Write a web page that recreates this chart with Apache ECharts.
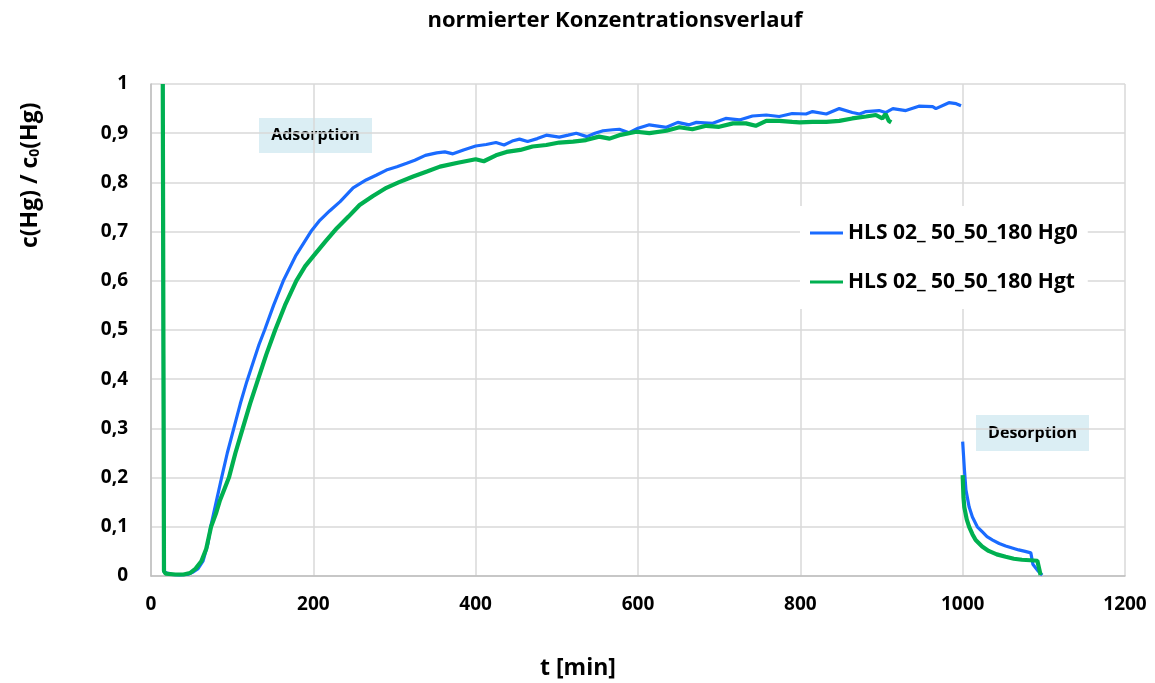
<!DOCTYPE html>
<html>
<head>
<meta charset="utf-8">
<title>normierter Konzentrationsverlauf</title>
<script src="https://cdn.jsdelivr.net/npm/echarts@6/dist/echarts.min.js"></script>
<style>
  html, body { margin: 0; padding: 0; background: #ffffff; }
  #chart { width: 1155px; height: 683px; }
</style>
</head>
<body>
<div id="chart"></div>
<script>
// Axis ticks
const xTicks = [0, 200, 400, 600, 800, 1000, 1200];
const yTickLabels = ['0', '0,1', '0,2', '0,3', '0,4', '0,5', '0,6', '0,7', '0,8', '0,9', '1'];

// Series names
const seriesNames = ['HLS 02_ 50_50_180 Hg0', 'HLS 02_ 50_50_180 Hgt'];

// Hg0 – adsorption phase [t (min), c/c0]
const hg0Adsorption = [
  [14.5, 1.0], [16, 0.008], [18, 0.004], [25, 0.003], [35, 0.002], [45, 0.003],
  [52, 0.008], [58, 0.015], [64, 0.03], [70, 0.065], [73.5, 0.1], [80, 0.148],
  [87, 0.2], [94, 0.25], [102, 0.3], [110, 0.35], [118, 0.395], [126, 0.435],
  [133, 0.47], [140, 0.5], [151, 0.55], [163, 0.6], [178, 0.65], [197, 0.7], [208, 0.723],
  [220, 0.742], [233, 0.761], [249, 0.789], [265, 0.805], [278, 0.815], [290, 0.825],
  [303, 0.832], [315, 0.839], [325, 0.845], [338, 0.855], [352, 0.86], [362, 0.862],
  [372, 0.858], [385, 0.866], [400, 0.874], [413, 0.877], [425, 0.881], [435, 0.876],
  [445, 0.884], [454, 0.888], [464, 0.883], [476, 0.889], [487, 0.896], [503, 0.892],
  [514, 0.896], [524, 0.9], [537, 0.893], [547, 0.9], [557, 0.905], [569, 0.907],
  [577, 0.908], [589, 0.901], [600, 0.91], [614, 0.917], [635, 0.912], [649, 0.922],
  [663, 0.917], [672, 0.922], [692, 0.92], [708, 0.93], [725, 0.927], [741, 0.935],
  [758, 0.937], [774, 0.934], [790, 0.94], [807, 0.939], [815, 0.944], [832, 0.939],
  [848, 0.95], [864, 0.942], [873, 0.939], [881, 0.944], [897, 0.946], [905, 0.942],
  [914, 0.95], [930, 0.946], [946, 0.955], [963, 0.954], [967, 0.95], [983, 0.962],
  [992, 0.96], [998, 0.956]
];

// Hg0 – desorption phase
const hg0Desorption = [
  [1000, 0.273], [1002, 0.22], [1004, 0.175], [1008, 0.14], [1012, 0.12], [1018, 0.1],
  [1024, 0.09], [1030, 0.08], [1037, 0.073], [1045, 0.066], [1053, 0.061], [1061, 0.057],
  [1069, 0.053], [1077, 0.05], [1084, 0.047], [1086, 0.045], [1086.5, 0.024],
  [1092, 0.012], [1098, 0.002]
];

// Hgt – adsorption phase
const hgtAdsorption = [
  [14.5, 1.0], [16, 0.01], [18, 0.005], [30, 0.003], [40, 0.003], [48, 0.006],
  [55, 0.015], [62, 0.03], [68, 0.055], [74, 0.1], [80, 0.127], [85, 0.154],
  [90, 0.175], [96, 0.2], [104, 0.25], [113, 0.3], [122, 0.35], [132, 0.4],
  [142, 0.45], [153, 0.5], [165, 0.55], [179, 0.6], [190, 0.63], [200, 0.65],
  [215, 0.68], [229, 0.707], [243, 0.73], [257, 0.754], [273, 0.772], [290, 0.789],
  [305, 0.8], [323, 0.812], [340, 0.822], [356, 0.832], [378, 0.84], [400, 0.847],
  [410, 0.843], [425, 0.855], [438, 0.862], [455, 0.866], [470, 0.873], [487, 0.876],
  [503, 0.881], [520, 0.883], [536, 0.886], [552, 0.893], [565, 0.889], [577, 0.896],
  [598, 0.903], [614, 0.9], [635, 0.905], [651, 0.912], [667, 0.908], [684, 0.915],
  [700, 0.913], [717, 0.92], [733, 0.92], [745, 0.915], [758, 0.925], [774, 0.925],
  [790, 0.923], [799, 0.922], [815, 0.923], [832, 0.923], [848, 0.925], [864, 0.93],
  [881, 0.934], [893, 0.937], [901, 0.93], [905, 0.939], [909, 0.925], [912, 0.922]
];

// Hgt – desorption phase
const hgtDesorption = [
  [1000, 0.205], [1001, 0.16], [1002, 0.14], [1005, 0.115], [1008, 0.1], [1012, 0.085],
  [1016, 0.073], [1024, 0.06], [1032, 0.051], [1042, 0.044], [1053, 0.039], [1063, 0.035],
  [1073, 0.033], [1083, 0.032], [1092, 0.031], [1093.5, 0.028], [1096, 0.002]
];

// Join the two phases with a break so no line bridges the pause
const gap = [[999, '-']];
const hg0Data = hg0Adsorption.concat(gap, hg0Desorption);
const hgtData = hgtAdsorption.concat(gap, hgtDesorption);

const FONT = '"Open Sans"';
const chart = echarts.init(document.getElementById('chart'));

chart.setOption({
  backgroundColor: '#ffffff',
  animation: false,
  textStyle: { fontFamily: FONT },
  grid: { left: 151, right: 30, top: 84, bottom: 107 },
  xAxis: {
    type: 'value',
    min: xTicks[0],
    max: xTicks[xTicks.length - 1],
    interval: xTicks[1] - xTicks[0],
    axisLine: { show: true, lineStyle: { color: '#bfbfbf', width: 1.5 } },
    axisTick: { show: false },
    axisLabel: {
      margin: 19, fontSize: 19, fontWeight: 'bold', color: '#000000', fontFamily: FONT,
      formatter: v => String(v)
    },
    splitLine: { show: true, lineStyle: { color: '#d9d9d9', width: 1.5 } }
  },
  yAxis: {
    type: 'value',
    min: 0,
    max: 1,
    interval: 0.1,
    axisLine: { show: true, lineStyle: { color: '#bfbfbf', width: 1.5 } },
    axisTick: { show: false },
    axisLabel: {
      margin: 23, fontSize: 19, fontWeight: 'bold', color: '#000000', fontFamily: FONT,
      formatter: (v, i) => yTickLabels[i]
    },
    splitLine: { show: true, lineStyle: { color: '#d9d9d9', width: 1.5 } }
  },
  legend: {
    orient: 'vertical',
    left: 800,
    top: 206,
    padding: [14, 10, 14, 10],
    backgroundColor: '#ffffff',
    icon: 'path://M0 0H33V3H0Z',
    itemWidth: 33,
    itemHeight: 3,
    itemGap: 23,
    data: seriesNames,
    textStyle: { fontSize: 21, lineHeight: 26, fontWeight: 'bold', color: '#000000', fontFamily: FONT }
  },
  series: [
    {
      name: seriesNames[0],
      type: 'line',
      data: hg0Data,
      showSymbol: false,
      symbol: 'none',
      connectNulls: false,
      lineStyle: { color: '#1a6bff', width: 3.2 },
      itemStyle: { color: '#1a6bff' },
      z: 2
    },
    {
      name: seriesNames[1],
      type: 'line',
      data: hgtData,
      showSymbol: false,
      symbol: 'none',
      connectNulls: false,
      lineStyle: { color: '#00b050', width: 4.2 },
      itemStyle: { color: '#00b050' },
      z: 3
    }
  ],
  graphic: [
    {
      type: 'text', x: 615, y: 21,
      style: { text: 'normierter Konzentrationsverlauf', font: 'bold 22px ' + FONT, fill: '#000000', align: 'center', verticalAlign: 'middle' }
    },
    {
      type: 'text', x: 578, y: 668,
      style: { text: 't [min]', font: 'bold 23px ' + FONT, fill: '#000000', align: 'center', verticalAlign: 'middle' }
    },
    {
      type: 'text', x: 19, y: 248, rotation: Math.PI / 2,
      style: {
        text: '{a|c(Hg) / c}{s|0}{a|(Hg)}',
        fill: '#000000',
        rich: {
          a: { fontFamily: FONT, fontWeight: 'bold', fontSize: 23, fill: '#000000' },
          s: { fontFamily: FONT, fontWeight: 'bold', fontSize: 14, fill: '#000000', verticalAlign: 'bottom' }
        }
      }
    },
    {
      type: 'group', left: 259, top: 118,
      children: [
        { type: 'rect', shape: { x: 0, y: 0, width: 113, height: 35 }, style: { fill: '#dbeef4' } },
        { type: 'text', x: 56.5, y: 17.5, style: { text: 'Adsorption', font: 'bold 16px ' + FONT, fill: '#000000', align: 'center', verticalAlign: 'middle' } }
      ]
    },
    {
      type: 'group', left: 976, top: 415,
      children: [
        { type: 'rect', shape: { x: 0, y: 0, width: 113, height: 36 }, style: { fill: '#dbeef4' } },
        { type: 'text', x: 56.5, y: 18, style: { text: 'Desorption', font: 'bold 16px ' + FONT, fill: '#000000', align: 'center', verticalAlign: 'middle' } }
      ]
    }
  ]
});
</script>
</body>
</html>
